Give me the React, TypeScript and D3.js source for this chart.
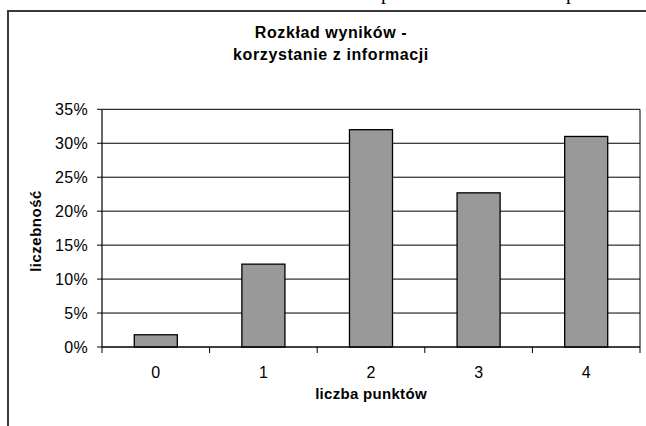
import React from "react";
import * as d3 from "d3";

const categories = ["0", "1", "2", "3", "4"];
const values = [0.018, 0.122, 0.32, 0.227, 0.31];
const yTicks = [0, 0.05, 0.1, 0.15, 0.2, 0.25, 0.3, 0.35];
const titleLines = ["Rozkład wyników -", "korzystanie z informacji"];
const xTitle = "liczba punktów";
const yTitle = "liczebność";

export default function App() {
  const W = 646, H = 426;
  const left = 102, right = 640, top = 109.3, bottom = 347;
  const x = d3.scaleBand<string>().domain(categories).range([left, right]).paddingInner(0.6).paddingOuter(0.3);
  const xb = d3.scaleBand<string>().domain(categories).range([left, right]);
  const y = d3.scaleLinear().domain([0, 0.35]).range([bottom, top]);
  const fmt = d3.format(".0%");
  const font = "'Liberation Sans', Arial, sans-serif";
  const boundaries = [...categories.map((c) => xb(c) as number), right];

  return (
    <svg width={W} height={H} style={{ position: "fixed", left: 0, top: 0, background: "#fff" }} fontFamily={font}>
      <rect x={0} y={0} width={W} height={H} fill="#fff" />
      {/* fragments of surrounding document text */}
      <text x={381} y={-1} fontFamily="'Liberation Serif', 'Times New Roman', serif" fontSize={20}>p</text>
      <text x={566} y={-1} fontFamily="'Liberation Serif', 'Times New Roman', serif" fontSize={20}>p</text>
      {/* chart frame */}
      <path d={`M8,${H + 5} L8,11 L${W + 5},11`} fill="none" stroke="#3a3a3a" strokeWidth={2} />
      {/* title */}
      {titleLines.map((t, i) => (
        <text key={i} x={331} y={38 + i * 22} textAnchor="middle" fontSize={16} fontWeight="bold" letterSpacing={0.6}>
          {t}
        </text>
      ))}
      {/* gridlines */}
      {yTicks.map((t) => (
        <line key={"g" + t} x1={left} x2={right} y1={y(t)} y2={y(t)} stroke="#000" strokeWidth={1} />
      ))}
      {/* plot border right */}
      <line x1={right} x2={right} y1={top} y2={bottom} stroke="#000" strokeWidth={1} />
      {/* bars */}
      {categories.map((c, i) => (
        <rect key={c} x={x(c)} y={y(values[i])} width={x.bandwidth()} height={bottom - y(values[i])} fill="#999999" stroke="#000" strokeWidth={1.3} />
      ))}
      {/* y axis */}
      <line x1={left} x2={left} y1={top} y2={bottom} stroke="#000" strokeWidth={1.2} />
      {yTicks.map((t) => (
        <g key={"yt" + t}>
          <line x1={left - 5} x2={left} y1={y(t)} y2={y(t)} stroke="#000" />
          <text x={88} y={y(t)} dy="0.36em" textAnchor="end" fontSize={16} letterSpacing={0.3}>{fmt(t)}</text>
        </g>
      ))}
      {/* x axis */}
      <line x1={left} x2={right} y1={bottom} y2={bottom} stroke="#000" strokeWidth={1.2} />
      {boundaries.map((b, i) => (
        <line key={"xt" + i} x1={b} x2={b} y1={bottom} y2={bottom + 6} stroke="#000" />
      ))}
      {categories.map((c) => (
        <text key={"xl" + c} x={(xb(c) as number) + xb.bandwidth() / 2} y={378} textAnchor="middle" fontSize={16}>{c}</text>
      ))}
      <text x={371} y={399} textAnchor="middle" fontSize={15} fontWeight="bold" letterSpacing={0.3}>{xTitle}</text>
      <text transform={`translate(41,231) rotate(-90)`} textAnchor="middle" fontSize={15} fontWeight="bold" letterSpacing={0.5}>{yTitle}</text>
    </svg>
  );
}
